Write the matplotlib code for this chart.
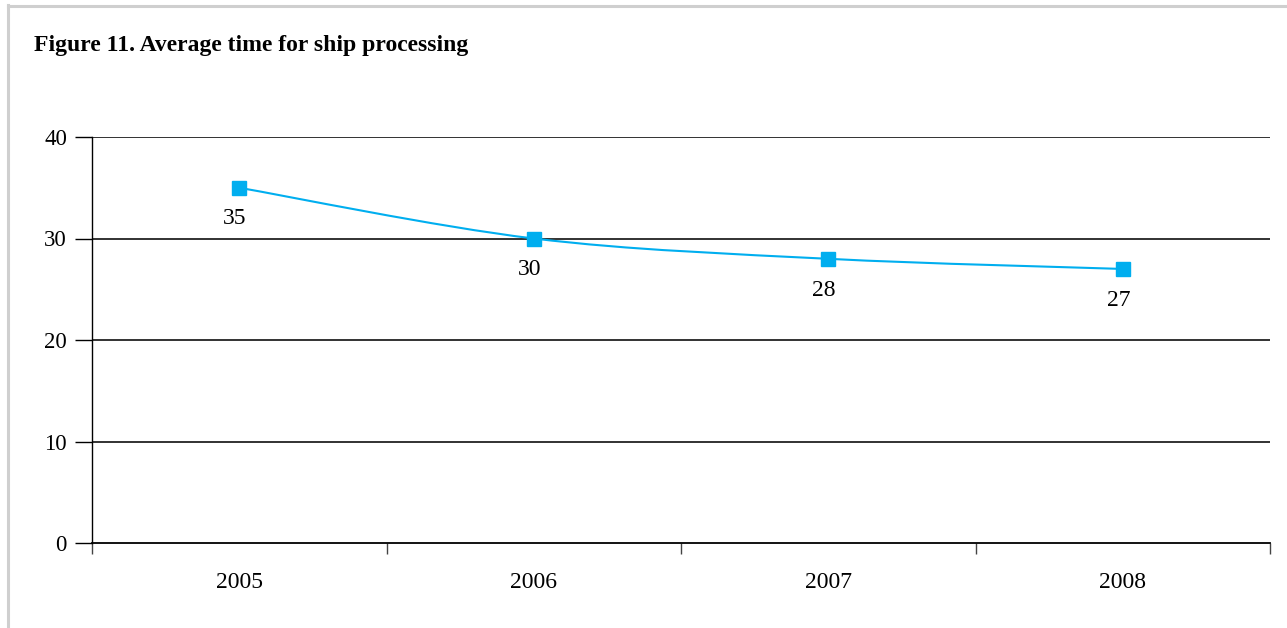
import matplotlib
matplotlib.use("Agg")
import matplotlib.pyplot as plt
from matplotlib.path import Path
from matplotlib.patches import PathPatch
from matplotlib.lines import Line2D
import numpy as np

years = ["2005", "2006", "2007", "2008"]
hours = [35, 30, 28, 27]
y_ticks = [0, 10, 20, 30, 40]
title = "Figure 11. Average time for ship processing"

LINE_BLUE = "#00AEEF"
plt.rcParams["font.family"] = ["Liberation Serif", "DejaVu Serif"]

W, H = 1287, 628
fig = plt.figure(figsize=(W / 100, H / 100), dpi=100)

# light grey frame along top and left edge
fig.add_artist(Line2D([7.5 / W, 1.0], [1 - 6 / H, 1 - 6 / H], color="#cfcfcf", lw=2.2,
                      transform=fig.transFigure))
fig.add_artist(Line2D([7.5 / W, 7.5 / W], [1 - 5 / H, 0], color="#cfcfcf", lw=2.2,
                      transform=fig.transFigure))

fig.text(34 / W, 1 - 45 / H, title, fontsize=17, fontweight="bold", va="center", ha="left")

ax = fig.add_axes([92 / W, 1 - 543 / H, (1270 - 92) / W, (543 - 137) / H])
n = len(years)
x = np.arange(n)
ax.set_xlim(-0.5, n - 0.5)
ax.set_ylim(0, 40)

for s in ["top", "right"]:
    ax.spines[s].set_visible(False)
ax.spines["left"].set_linewidth(1.0)
ax.spines["bottom"].set_linewidth(1.3)

ax.set_yticks(y_ticks)
ax.set_yticklabels([str(v) for v in y_ticks], fontsize=16.5)
ax.tick_params(axis="y", length=12, width=1.0, pad=6, direction="out")
for v in y_ticks[1:]:
    ax.axhline(v, color="#222222", lw=1.3, zorder=1)

# category boundary ticks on the x axis, labels centred in each category
ax.set_xticks(np.arange(-0.5, n, 1.0))
ax.set_xticklabels([])
ax.set_xticks(x, minor=True)
ax.set_xticklabels(years, minor=True, fontsize=17)
ax.tick_params(axis="x", which="major", length=8, width=1.0, color="#444444", direction="out")
ax.tick_params(axis="x", which="minor", length=0, pad=21)

# smoothed line through the points (Catmull-Rom as cubic Bezier segments)
pts = np.column_stack([x, hours]).astype(float)
verts = [tuple(pts[0])]
codes = [Path.MOVETO]
for i in range(n - 1):
    p0 = pts[i - 1] if i > 0 else pts[i]
    p1, p2 = pts[i], pts[i + 1]
    p3 = pts[i + 2] if i + 2 < n else pts[i + 1]
    c1 = p1 + (p2 - p0) / 6.0
    c2 = p2 - (p3 - p1) / 6.0
    verts += [tuple(c1), tuple(c2), tuple(p2)]
    codes += [Path.CURVE4] * 3
ax.add_patch(PathPatch(Path(verts, codes), facecolor="none", edgecolor=LINE_BLUE,
                       lw=1.5, zorder=3))
ax.plot(x, hours, linestyle="none", marker="s", markersize=9.5, color=LINE_BLUE, zorder=4)

for xi, v in zip(x, hours):
    ax.annotate(str(v), (xi, v), xytext=(-3, -22.5), textcoords="offset points",
                ha="center", va="center", fontsize=17)

fig.savefig("out.png", dpi=100)
